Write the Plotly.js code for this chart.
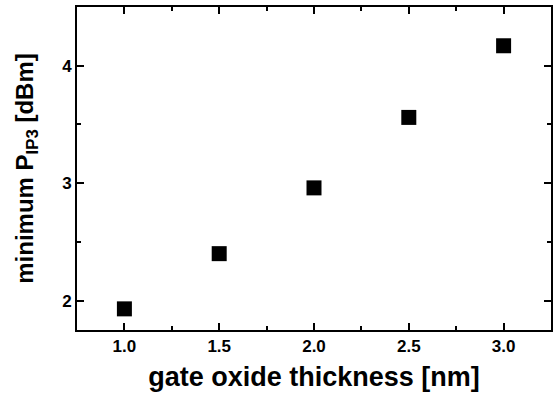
<!DOCTYPE html>
<html><head><meta charset="utf-8">
<script src="https://cdn.plot.ly/plotly-3.0.1.min.js"></script>
<style>html,body{margin:0;padding:0;background:#fff}#c{width:555px;height:397px}</style>
</head><body><div id="c"></div>
<script>
const thickness = [1.0, 1.5, 2.0, 2.5, 3.0];
const minPIP3 = [1.93, 2.40, 2.96, 3.56, 4.17];
const xTickVals = [1.0, 1.5, 2.0, 2.5, 3.0];
const xTickText = ['<b>1.0</b>', '<b>1.5</b>', '<b>2.0</b>', '<b>2.5</b>', '<b>3.0</b>'];
const yTickVals = [2, 3, 4];
const yTickText = ['<b>2</b>', '<b>3</b>', '<b>4</b>'];

const F = 'Liberation Sans, Arial, sans-serif';
Plotly.newPlot('c', [{
  x: thickness, y: minPIP3, mode: 'markers', type: 'scatter',
  marker: {symbol: 'square', size: 15, color: '#000'}
}], {
  width: 555, height: 397,
  margin: {l: 77, r: 4, t: 7, b: 67},
  paper_bgcolor: '#fff', plot_bgcolor: '#fff',
  showlegend: false,
  xaxis: {
    range: [0.75, 3.25], tickvals: xTickVals, ticktext: xTickText,
    ticks: 'inside', ticklen: 7, tickwidth: 2, tickcolor: '#000',
    showline: true, linewidth: 2, linecolor: '#000', mirror: 'ticks',
    showgrid: false, zeroline: false,
    minor: {ticks: 'inside', ticklen: 4, tickwidth: 2, tickcolor: '#000', dtick: 0.25, showgrid: false},
    tickfont: {family: F, size: 17, color: '#000'},
    title: {text: '<b>gate oxide thickness [nm]</b>', font: {family: F, size: 27, color: '#000'}, standoff: 12}
  },
  yaxis: {
    range: [1.75, 4.5], tickvals: yTickVals, ticktext: yTickText,
    ticks: 'inside', ticklen: 7, tickwidth: 2, tickcolor: '#000',
    showline: true, linewidth: 2, linecolor: '#000', mirror: 'ticks',
    showgrid: false, zeroline: false,
    minor: {ticks: 'inside', ticklen: 4, tickwidth: 2, tickcolor: '#000', dtick: 0.5, showgrid: false},
    tickfont: {family: F, size: 17, color: '#000'},
    title: {text: '<b>minimum P<sub>IP3</sub> [dBm]</b>', font: {family: F, size: 24, color: '#000'}, standoff: 22}
  }
}, {displayModeBar: false, staticPlot: true});
</script></body></html>
